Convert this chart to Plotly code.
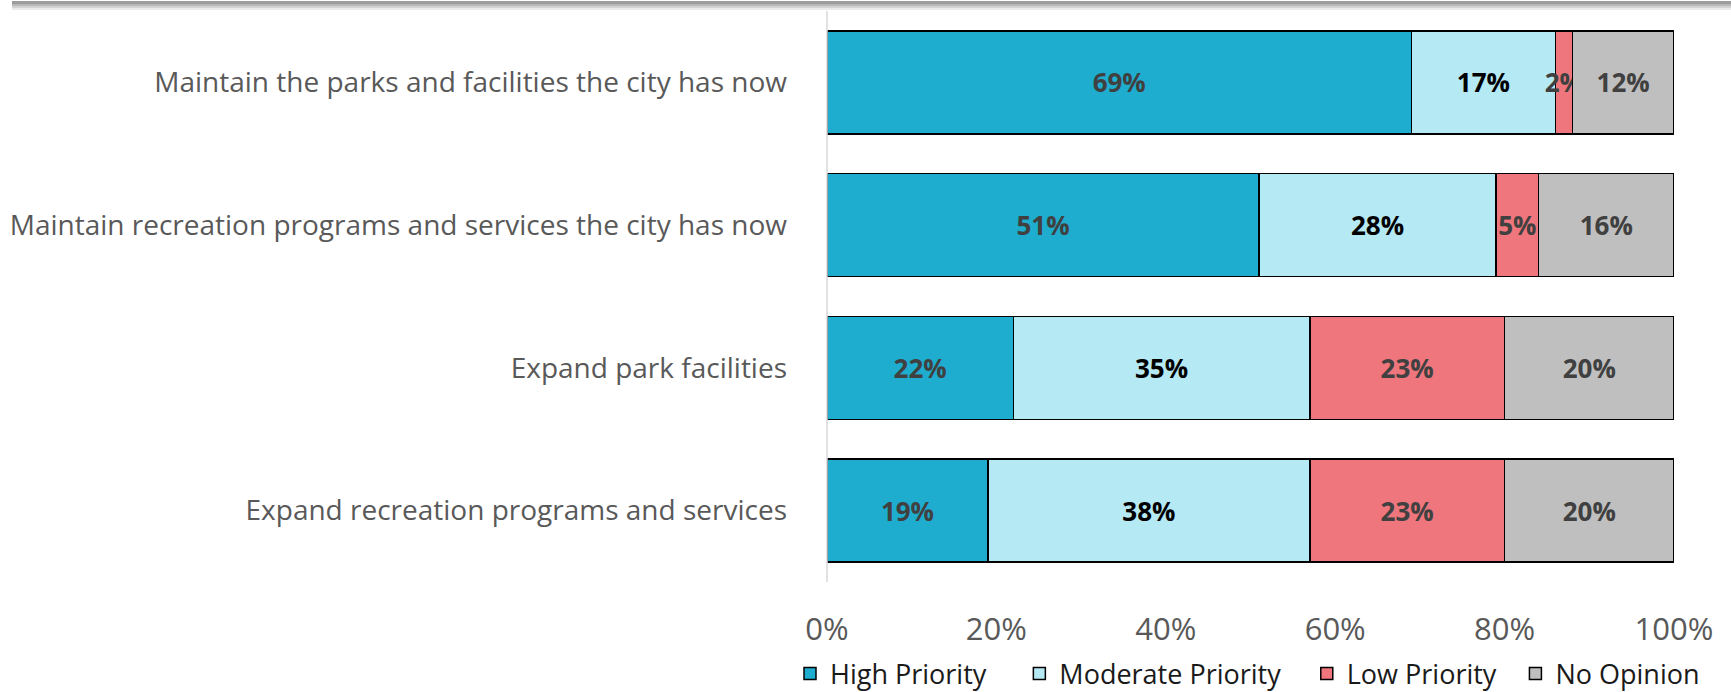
import plotly.graph_objects as go

categories = [
    "Maintain the parks and facilities the city has now",
    "Maintain recreation programs and services the city has now",
    "Expand park facilities",
    "Expand recreation programs and services",
]
series_names = ["High Priority", "Moderate Priority", "Low Priority", "No Opinion"]
high = [69, 51, 22, 19]
moderate = [17, 28, 35, 38]
low = [2, 5, 23, 23]
no_opinion = [12, 16, 20, 20]
tick_vals = [0, 20, 40, 60, 80, 100]
tick_text = ["0%", "20%", "40%", "60%", "80%", "100%"]

values = [high, moderate, low, no_opinion]
colors = ["#1FADCF", "#B5E9F4", "#EE767C", "#BFBFBF"]
label_colors = ["#404040", "#000000", "#404040", "#404040"]
legend_pad = ["\u00a0" * 4, "\u00a0" * 3, "\u00a0" * 2, ""]

fig = go.Figure()
for name, vals, col, lcol, pad in zip(series_names, values, colors, label_colors, legend_pad):
    fig.add_trace(go.Bar(
        y=categories, x=vals, name=name + pad, orientation="h",
        marker=dict(color=col, line=dict(color="#000000", width=1.5)),
        text=[f"{v}%" for v in vals], textposition="inside",
        insidetextanchor="middle", constraintext="none", textangle=0,
        textfont=dict(family="Open Sans", size=26, color=lcol, weight="bold"),
        width=0.72, hoverinfo="skip",
    ))

W, H = 1731, 692
L, R, T, B = 827, 57, 11, 110
pw, ph = W - L - R, H - T - B

def px_x(x):
    return (x - L) / pw

def px_y(y):
    return (H - B - y) / ph

shadow = [(1, 4, "#9c9c9c"), (4, 6, "#b8b8b8"), (6, 8, "#d2d2d2"), (8, 10, "#ebebeb")]
shapes = []
for y0, y1, c in shadow:
    shapes.append(dict(type="rect", xref="paper", yref="paper",
                       x0=px_x(12), x1=px_x(W + 5), y0=px_y(y1), y1=px_y(y0),
                       fillcolor=c, line=dict(width=0), layer="above"))
shapes.append(dict(type="line", xref="paper", yref="paper", x0=0, x1=0, y0=0, y1=1,
                   line=dict(color="#D9D9D9", width=1.5)))

fig.update_layout(
    width=W, height=H, barmode="stack", bargap=0.28,
    margin=dict(l=L, r=R, t=T, b=B, autoexpand=False),
    paper_bgcolor="white", plot_bgcolor="white",
    font=dict(family="Open Sans", color="#595959"),
    shapes=shapes,
    xaxis=dict(range=[0, 100], tickvals=tick_vals, ticktext=tick_text,
               showgrid=False, zeroline=False, showline=False, ticks="",
               tickfont=dict(family="Open Sans", size=31, color="#595959"),
               ticklabelstandoff=26, fixedrange=True, automargin=False),
    yaxis=dict(autorange="reversed", showgrid=False, zeroline=False, showline=False,
               ticks="", tickfont=dict(family="Open Sans", size=28, color="#595959"),
               ticklabelstandoff=39, automargin=False),
    legend=dict(orientation="h", x=px_x(790), xanchor="left",
                y=px_y(674), yanchor="middle",
                font=dict(family="Open Sans", size=27, color="#1a1a1a"),
                traceorder="normal", itemwidth=30),
    uniformtext=dict(mode=False),
)

fig.write_html("out.html", config={"displayModeBar": False},
               post_script="document.body.style.margin='0';document.body.style.overflow='hidden';")
